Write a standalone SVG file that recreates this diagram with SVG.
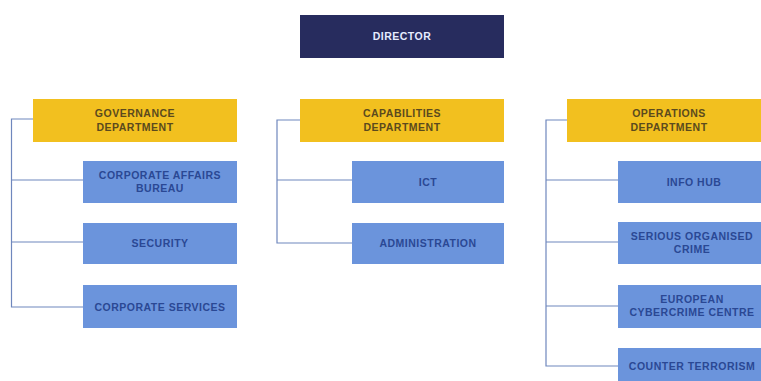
<svg xmlns="http://www.w3.org/2000/svg" width="761" height="381" viewBox="0 0 761 381">
<style>
.dir{fill:#272c5e}
.dept{fill:#f2c01f}
.unit{fill:#6b94dc}
text{font-family:"Liberation Sans",Arial,sans-serif;font-weight:bold;font-size:10.5px;letter-spacing:0.5px;text-anchor:middle}
.tdir{fill:#e6ecff}
.tdept{fill:#5b4a1e}
.tunit{fill:#2a4894}
.conn{fill:none;stroke:#6f87bd;stroke-width:1.2}
</style>
<rect width="761" height="381" fill="#ffffff"/>
<g id="connectors">
<path class="conn" d="M33 119H11.5V307H83M11.5 180H83M11.5 242H83"/>
<path class="conn" d="M300 120H277V243H352M277 180H352"/>
<path class="conn" d="M567 120H546V366H618M546 180H618M546 242H618M546 306H618"/>
</g>
<g id="director"><rect class="dir" x="300" y="15" width="204" height="43"/><text class="tdir" x="402" y="40">DIRECTOR</text></g>
<g id="governance"><rect class="dept" x="33" y="99" width="204" height="43"/><text class="tdept" x="135" y="117">GOVERNANCE</text><text class="tdept" x="135" y="131">DEPARTMENT</text></g>
<g id="corporate-affairs"><rect class="unit" x="83" y="161" width="154" height="42"/><text class="tunit" x="160" y="179">CORPORATE AFFAIRS</text><text class="tunit" x="160" y="192">BUREAU</text></g>
<g id="security"><rect class="unit" x="83" y="223" width="154" height="41"/><text class="tunit" x="160" y="247">SECURITY</text></g>
<g id="corporate-services"><rect class="unit" x="83" y="285" width="154" height="43"/><text class="tunit" x="160" y="311">CORPORATE SERVICES</text></g>
<g id="capabilities"><rect class="dept" x="300" y="99" width="204" height="43"/><text class="tdept" x="402" y="117">CAPABILITIES</text><text class="tdept" x="402" y="131">DEPARTMENT</text></g>
<g id="ict"><rect class="unit" x="352" y="161" width="152" height="42"/><text class="tunit" x="428" y="186">ICT</text></g>
<g id="administration"><rect class="unit" x="352" y="223" width="152" height="41"/><text class="tunit" x="428" y="247">ADMINISTRATION</text></g>
<g id="operations"><rect class="dept" x="567" y="99" width="204" height="43"/><text class="tdept" x="669" y="117">OPERATIONS</text><text class="tdept" x="669" y="131">DEPARTMENT</text></g>
<g id="info-hub"><rect class="unit" x="618" y="161" width="153" height="42"/><text class="tunit" x="694" y="186">INFO HUB</text></g>
<g id="serious-organised-crime"><rect class="unit" x="618" y="222" width="153" height="42"/><text class="tunit" x="692" y="240">SERIOUS ORGANISED</text><text class="tunit" x="692" y="253">CRIME</text></g>
<g id="cybercrime"><rect class="unit" x="618" y="285" width="153" height="43"/><text class="tunit" x="692" y="303">EUROPEAN</text><text class="tunit" x="692" y="316">CYBERCRIME CENTRE</text></g>
<g id="counter-terrorism"><rect class="unit" x="618" y="348" width="153" height="43"/><text class="tunit" x="692" y="370">COUNTER TERRORISM</text></g>
</svg>
